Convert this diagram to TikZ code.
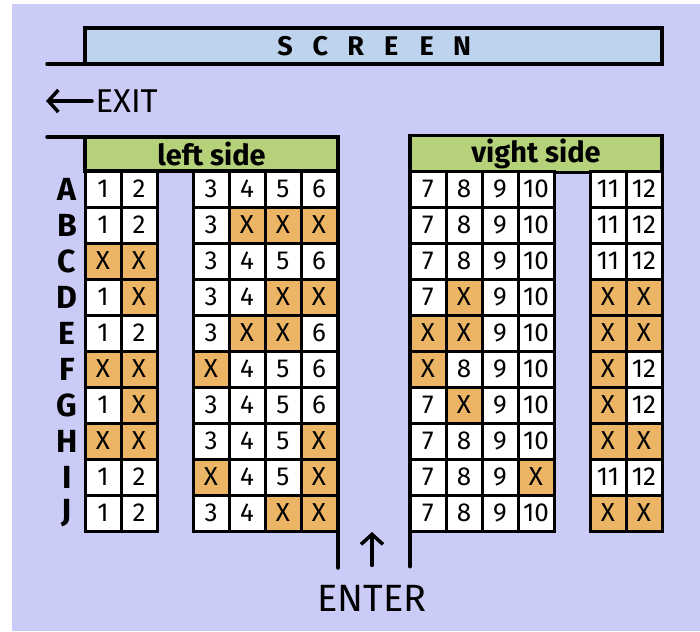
\documentclass[tikz,border=0pt]{standalone}
\usepackage{fontspec}
\setmainfont{Fira Sans}
\usetikzlibrary{arrows.meta, positioning}
\definecolor{hall}{HTML}{CBCBF7}
\definecolor{screenblue}{HTML}{BED3EE}
\definecolor{sidegreen}{HTML}{B5D27A}
\definecolor{takenorange}{HTML}{EBB565}
\def\seatx{x}
\tikzset{
>={Straight Barb[length=10pt,width=22pt]},
  wall/.style={draw=black, line width=3.5pt, line cap=round, outer sep=0pt},
  seat/.style={
    rectangle,
    draw=black, line width=3pt,
    fill=white,
    minimum size=36pt,
    inner sep=0pt,
    font=\fontsize{26}{28}\selectfont},
  taken/.style={seat, fill=takenorange},
  header/.style={
    rectangle,
    wall,
    fill=sidegreen,
    minimum height=34pt,
    font=\bfseries\fontsize{29}{31}\selectfont},
  rowlabel/.style={font=\bfseries\fontsize{32}{34}\selectfont},
  screenletter/.style={font=\bfseries\fontsize{27}{29}\selectfont},
  sign/.style={font=\fontsize{33}{36}\selectfont},
}
\begin{document}
\begin{tikzpicture}[x=1pt, y=-1pt]
  \useasboundingbox (0,0) rectangle (700,631);
  \fill[white] (0,0) rectangle (700,631);
  \fill[hall] (12,4) rectangle (700,631);

  % screen and exit
  \node[wall, fill=screenblue, minimum width=577pt, minimum height=36pt] (screen) at (373.5,46) {};
  \foreach \ch [count=\i] in {S,C,R,E,E,N}
    \node[screenletter] (scr\i) at (285+35.4*\i-35.4,46) {\ch};
  \draw[wall] (47,64) -- (screen.south west);
  \node[sign, anchor=west] (exit) at (92,101) {EXIT};
  \coordinate (exitend) at (46,101);
  \draw[wall, ->] (exit.west) -- (exitend);

  % the two sides
  \node[header, minimum width=253pt] (leftside) at (211.5,154) {left side};
  \node[header, minimum width=252pt] (rightside) at (536,154) {vight side};
  \draw[wall] (47,137) -- (leftside.north west);

  \foreach \r/\seats [count=\i] in {
    A/{1,2,3,4,5,6,7,8,9,10,11,12},
    B/{1,2,3,x,x,x,7,8,9,10,11,12},
    C/{x,x,3,4,5,6,7,8,9,10,11,12},
    D/{1,x,3,4,x,x,7,x,9,10,x,x},
    E/{1,2,3,x,x,6,x,x,9,10,x,x},
    F/{x,x,x,4,5,6,x,8,9,10,x,12},
    G/{1,x,3,4,5,6,7,x,9,10,x,12},
    H/{x,x,3,4,5,x,7,8,9,10,x,x},
    I/{1,2,x,4,5,x,7,8,9,x,11,12},
    J/{1,2,3,4,x,x,7,8,9,10,x,x}}{
    \pgfmathsetmacro\yy{189+36*(\i-1)}
    \node[rowlabel] (row\r) at (67,\yy) {\r};
    \foreach \s [count=\c] in \seats {
      \pgfmathsetmacro\xx{{103,139,211,247,283,319,428,464,500,536,608,644}[\c-1]}
      \ifx\s\seatx
        \node[taken] (\r\c) at (\xx,\yy) {X};
      \else
        \node[seat] (\r\c) at (\xx,\yy) {\s};
      \fi
    }
  }

  % entrance
  \draw[wall] (leftside.north east) -- ++(0,431);
  \draw[wall] (rightside.north west) -- ++(0,431);
  \node[sign, font=\fontsize{38}{40}\selectfont] (enter) at (372,598) {ENTER};
  \coordinate (door) at (372,532);
  \draw[wall, ->] ([yshift=16pt]enter.north) -- (door);
\end{tikzpicture}
\end{document}
